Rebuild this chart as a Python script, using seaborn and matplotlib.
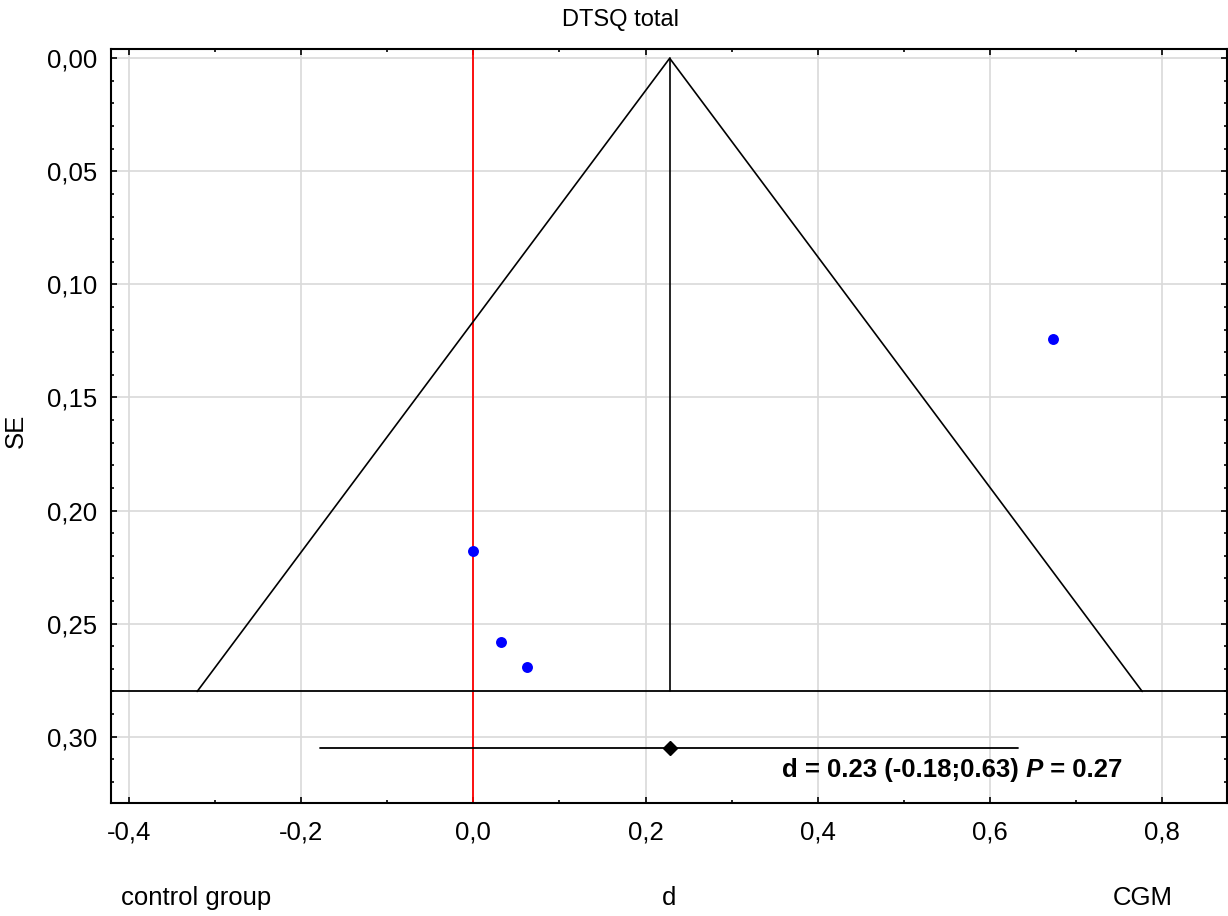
import matplotlib
matplotlib.use("Agg")
import matplotlib.pyplot as plt
import seaborn as sns
import pandas as pd
from matplotlib.ticker import MultipleLocator, FuncFormatter

# ---- data ----
study_d = [0.000, 0.032, 0.062, 0.673]
study_se = [0.218, 0.258, 0.269, 0.124]
pooled_d = 0.228
ci_low = -0.178
ci_high = 0.633
se_max = 0.28          # base of the funnel
ci_row_se = 0.305      # vertical position of the pooled-estimate row
null_d = 0.0
z_crit = 1.96

title_text = "DTSQ total"
y_label = "SE"
x_label = "d"
left_label = "control group"
right_label = "CGM"
stat_main = "d = 0.23 (-0.18;0.63)"
stat_p = " P"
stat_pval = " = 0.27"

x_ticks_major = [-0.4, -0.2, 0.0, 0.2, 0.4, 0.6, 0.8]
y_ticks_major = [0.00, 0.05, 0.10, 0.15, 0.20, 0.25, 0.30]

# ---- style ----
sns.set_theme(style="white")
plt.rcParams["font.family"] = ["Liberation Sans", "DejaVu Sans"]
FS = 18.5

W, H = 1228, 916
fig = plt.figure(figsize=(W / 100, H / 100), dpi=100)
ax_l, ax_r, ax_t, ax_b = 111, 1227, 49, 802.7
ax = fig.add_axes([ax_l / W, 1 - ax_b / H, (ax_r - ax_l) / W, (ax_b - ax_t) / H])

ax.set_xlim(-0.4209, 0.8753)
ax.set_ylim(0.3292, -0.0041)

# grid
ax.set_axisbelow(True)
ax.grid(True, which="major", color="#d9d9d9", linewidth=1.2)

# funnel
f_left = pooled_d - z_crit * se_max
f_right = pooled_d + z_crit * se_max
ax.plot([f_left, pooled_d, f_right], [se_max, 0.0, se_max], color="black", lw=1.2, zorder=3)
ax.plot([pooled_d, pooled_d], [0.0, se_max], color="black", lw=1.2, zorder=3)
ax.axhline(se_max, color="black", lw=1.3, zorder=3)

# null line
ax.axvline(null_d, color="red", lw=1.3, zorder=2)

# pooled CI row
ax.plot([ci_low, ci_high], [ci_row_se, ci_row_se], color="black", lw=1.3, zorder=3)
ax.plot([pooled_d], [ci_row_se], marker="D", color="black", markersize=7, zorder=4)

# studies
df = pd.DataFrame({"d": study_d, "se": study_se})
sns.scatterplot(data=df, x="d", y="se", color="#0000ff", s=62, linewidth=0, ax=ax, zorder=5)
ax.set_xlabel("")
ax.set_ylabel("")

# ticks
ax.xaxis.set_minor_locator(MultipleLocator(0.1))
ax.yaxis.set_minor_locator(MultipleLocator(0.01))
ax.set_xticks(x_ticks_major)
ax.set_yticks(y_ticks_major)
ax.xaxis.set_major_formatter(FuncFormatter(lambda v, p: f"{v:.1f}".replace(".", ",").replace("-0,0", "0,0")))
ax.yaxis.set_major_formatter(FuncFormatter(lambda v, p: f"{v:.2f}".replace(".", ",").replace("-0,00", "0,00")))
ax.tick_params(which="both", direction="in", top=True, right=True, bottom=True, left=True,
               color="black", width=1.2, labelsize=FS, labelcolor="black")
ax.tick_params(which="major", length=4)
ax.tick_params(which="minor", length=2.5)
ax.tick_params(axis="x", which="major", pad=13)
ax.tick_params(axis="y", which="major", pad=10)
for s in ax.spines.values():
    s.set_color("black")
    s.set_linewidth(1.5)
    s.set_visible(True)

# stat text
t1 = ax.text(0.3585, 0.3179, stat_main, fontsize=FS, fontweight="bold", color="black",
             ha="left", va="baseline", zorder=6)
t2 = ax.annotate(stat_p, xy=(1, 0), xycoords=t1, va="bottom", ha="left", fontsize=FS,
                 fontweight="bold", fontstyle="italic", color="black", zorder=6)
t3 = ax.annotate(stat_pval, xy=(1, 0), xycoords=t2, va="bottom", ha="left", fontsize=FS,
                 fontweight="bold", color="black", zorder=6)

# figure texts
fig.text(621 / W, 1 - 26 / H, title_text, ha="center", va="baseline", fontsize=17, color="black")
fig.text(16 / W, 1 - 431 / H, y_label, ha="center", va="center", rotation=90, fontsize=FS, color="black")
fig.text(196 / W, 1 - 905 / H, left_label, ha="center", va="baseline", fontsize=FS, color="black")
fig.text(669 / W, 1 - 905 / H, x_label, ha="center", va="baseline", fontsize=FS, color="black")
fig.text(1143 / W, 1 - 905 / H, right_label, ha="center", va="baseline", fontsize=FS, color="black")

fig.savefig("out.png", dpi=100, facecolor="white")
